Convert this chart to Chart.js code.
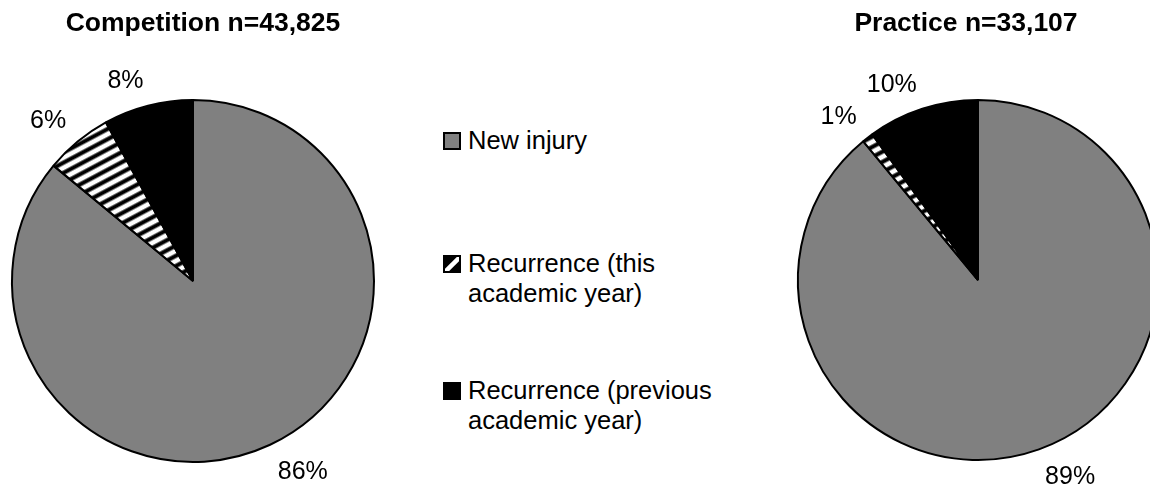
<!DOCTYPE html>
<html>
<head>
<meta charset="utf-8">
<script src="https://cdn.jsdelivr.net/npm/chart.js@4/dist/chart.umd.min.js"></script>
<style>
  html, body { margin:0; padding:0; background:#fff; overflow:hidden; width:1150px; height:487px; }
  body { position:relative; font-family:"Liberation Sans", Arial, sans-serif; color:#000; }
  .cv { position:absolute; top:0; }
  .title { position:absolute; top:7px; font-weight:bold; font-size:26.5px; line-height:30px; white-space:nowrap; transform:translateX(-50%); }
  .lg { position:absolute; left:468px; font-size:25.5px; line-height:30px; white-space:nowrap; }
  .lgicon { position:absolute; left:443px; }
</style>
</head>
<body>
<canvas id="c1" class="cv" width="400" height="487" style="left:0px;width:400px;height:487px"></canvas>
<canvas id="c2" class="cv" width="420" height="487" style="left:760px;width:420px;height:487px"></canvas>
<div class="title" id="t1" style="left:203px"></div>
<div class="title" id="t2" style="left:966px"></div>
<div id="legend"></div>
<script>
// ---- data ----
const categories = ['New injury', 'Recurrence (this academic year)', 'Recurrence (previous academic year)'];
const legendLines = [['New injury'], ['Recurrence (this', 'academic year)'], ['Recurrence (previous', 'academic year)']];
const competitionValues = [86, 6, 8];
const practiceValues = [89, 1, 10];
const titles = ['Competition n=43,825', 'Practice n=33,107'];

document.getElementById('t1').textContent = titles[0];
document.getElementById('t2').textContent = titles[1];

function makeStripe() {
  const c = document.createElement('canvas');
  c.width = 9; c.height = 9;
  const g = c.getContext('2d');
  g.fillStyle = '#fff'; g.fillRect(0, 0, 9, 9);
  g.fillStyle = '#000'; g.fillRect(0, 0.5, 9, 3.5);
  g.fillStyle = 'rgba(0,0,0,0.5)'; g.fillRect(0, 0, 9, 0.5); g.fillRect(0, 4, 9, 1);
  const p = g.createPattern(c, 'repeat');
  p.setTransform(new DOMMatrix().rotateSelf(-28));
  return p;
}
const stripe = makeStripe();
const colors = ['#808080', stripe, '#000000'];

const labelPlugin = {
  id: 'outLabels',
  afterDatasetsDraw(chart) {
    const ctx = chart.ctx;
    const meta = chart.getDatasetMeta(0);
    const ds = chart.data.datasets[0].data;
    const total = ds.reduce((a, b) => a + b, 0);
    ctx.save();
    ctx.font = '25px "Liberation Sans", Arial, sans-serif';
    ctx.fillStyle = '#000';
    meta.data.forEach((arc, i) => {
      const p = arc.getProps(['x', 'y', 'startAngle', 'endAngle', 'outerRadius'], true);
      const mid = (p.startAngle + p.endAngle) / 2;
      const d = p.outerRadius + 18;
      const ax = p.x + Math.cos(mid) * d;
      const ay = p.y + Math.sin(mid) * d;
      const txt = Math.round(ds[i] / total * 100) + '%';
      const m = ctx.measureText(txt);
      const asc = m.actualBoundingBoxAscent;
      ctx.textAlign = Math.cos(mid) < 0 ? 'right' : 'left';
      ctx.textBaseline = 'alphabetic';
      const by = Math.sin(mid) < 0 ? ay : ay + asc;
      ctx.fillText(txt, ax, by);
    });
    ctx.restore();
  }
};

function makePie(id, values, radius, padding) {
  return new Chart(document.getElementById(id), {
    type: 'pie',
    data: {
      labels: categories,
      datasets: [{
        data: values,
        backgroundColor: colors,
        borderColor: '#000',
        borderWidth: 2,
        hoverOffset: 0,
        radius: radius
      }]
    },
    options: {
      responsive: false,
      animation: false,
      devicePixelRatio: 1,
      layout: { padding: padding },
      plugins: { legend: { display: false }, tooltip: { enabled: false }, title: { display: false } },
      events: []
    },
    plugins: [labelPlugin]
  });
}

makePie('c1', competitionValues, 181, { left: 0, right: 14, top: 81, bottom: 6 });
makePie('c2', practiceValues, 180, { left: 18, right: 2, top: 80, bottom: 7 });

// ---- legend ----
const legendTops = [125, 248, 375];
const legend = document.getElementById('legend');
legendLines.forEach((lines, i) => {
  const t = document.createElement('div');
  t.className = 'lg';
  t.style.top = legendTops[i] + 'px';
  t.innerHTML = lines.join('<br>');
  legend.appendChild(t);
  const ic = document.createElement('canvas');
  ic.className = 'lgicon';
  ic.width = 18; ic.height = 18;
  ic.style.top = (legendTops[i] + 7) + 'px';
  const g = ic.getContext('2d');
  if (i === 1) {
    g.fillStyle = '#000'; g.fillRect(0, 0, 18, 18);
    g.save();
    g.beginPath(); g.rect(2, 2, 14, 14); g.clip();
    g.strokeStyle = '#fff'; g.lineWidth = 4.5;
    g.beginPath(); g.moveTo(0, 19); g.lineTo(19, 0); g.stroke();
    g.restore();
    g.strokeStyle = '#000'; g.lineWidth = 2; g.strokeRect(1, 1, 16, 16);
  } else {
    g.fillStyle = colors[i]; g.fillRect(1, 1, 16, 16);
    g.strokeStyle = '#000'; g.lineWidth = 2; g.strokeRect(1, 1, 16, 16);
  }
  legend.appendChild(ic);
});
</script>
</body>
</html>
